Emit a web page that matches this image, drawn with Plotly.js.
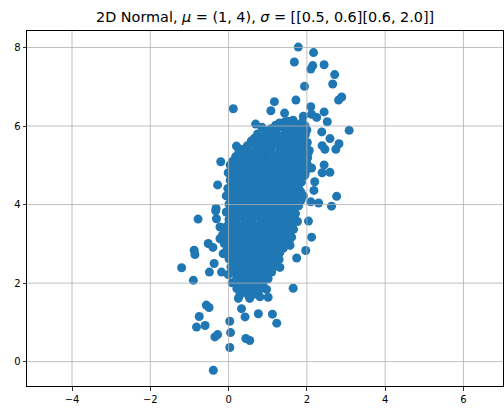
<!DOCTYPE html>
<html>
<head>
<meta charset="utf-8">
<script src="https://cdn.plot.ly/plotly-3.0.1.min.js"></script>
<style>html,body{margin:0;padding:0;background:#fff}#chart{width:504px;height:411px}</style>
</head>
<body>
<div id="chart"></div>
<script>
// Sparse (outlying) points
const outerX = [0.12, 0.69, 1.78, 2.17, 1.68, 2.15, 2.10, 2.44, 2.71, 2.66, 1.94, 2.89, 2.81, 1.72, 1.17, 1.08, 1.43, 2.10, 2.12, 2.44, 2.25, 2.52, 1.44, 1.65, 1.91,
  0.97, 0.20, -0.20, -0.28,
  2.38, 3.08, 2.59, 2.82, 2.39, 2.46, 2.74, 2.12, 2.44, 2.59, 2.39, 2.20, 2.18, 2.76, 2.10, 2.30, 2.63, 1.95, 1.95, 1.57,
  2.04, 2.12, 1.97, 1.74, 1.57, 1.29, 1.31, 1.65, 1.01, 0.97, 1.01,
  -0.78, -0.33, -0.52, -0.88, -0.86, -0.40, -0.37, -0.49, -0.18, -1.20, -0.90, -0.31, -0.22, -0.22, -0.14, 0.06, -0.32,
  -0.57, -0.50, -0.75, -0.82, -0.60, 0.03, 0.05, -0.35, -0.28, 0.03, -0.39, 0.44, 0.54, 0.76, 0.33, 0.42, 0.25, 0.54, 0.80, 1.12, 1.23];
const outerY = [6.44, 6.05, 8.01, 7.87, 7.63, 7.54, 7.45, 7.56, 7.31, 7.07, 7.01, 6.74, 6.66, 6.66, 6.62, 6.39, 6.33, 6.49, 6.30, 6.36, 6.22, 6.11, 6.11, 6.15, 6.25,
  5.87, 5.49, 5.09, 4.50,
  5.85, 5.89, 5.68, 5.55, 5.50, 5.41, 5.41, 4.93, 5.01, 4.82, 4.81, 4.58, 4.36, 4.21, 4.07, 4.04, 3.96, 4.75, 5.17, 4.24,
  3.58, 3.17, 2.83, 2.64, 2.96, 2.60, 2.40, 1.87, 2.11, 1.84, 1.64,
  3.63, 3.84, 3.01, 2.84, 2.73, 2.91, 2.50, 2.28, 2.28, 2.39, 2.07, 3.64, 3.43, 3.13, 2.75, 4.17, 3.90,
  1.44, 1.38, 1.15, 0.88, 0.92, 1.03, 0.74, 0.63, 0.69, 0.36, -0.22, 0.59, 0.54, 1.22, 1.35, 1.14, 1.61, 1.61, 1.65, 1.21, 0.98];

// Dense core of the cloud
const coreX = [1.30, 1.52, 1.70, 1.88,
  0.85, 1.08, 1.33, 1.58, 1.82, 2.00,
  0.74, 0.96, 1.16, 1.37, 1.56, 1.77, 1.96,
  0.58, 0.79, 1.01, 1.21, 1.40, 1.62, 1.81, 2.01,
  0.31, 0.49, 0.71, 0.92, 1.09, 1.31, 1.52, 1.69, 1.91, 2.06,
  0.18, 0.41, 0.59, 0.82, 0.99, 1.22, 1.39, 1.61, 1.79, 2.02,
  0.04, 0.26, 0.44, 0.66, 0.86, 1.04, 1.26, 1.44, 1.66, 1.84, 2.01,
  -0.01, 0.21, 0.39, 0.61, 0.79, 1.01, 1.21, 1.39, 1.61, 1.79, 1.96,
  0.04, 0.26, 0.44, 0.66, 0.84, 1.06, 1.24, 1.46, 1.64, 1.86,
  -0.02, 0.21, 0.39, 0.61, 0.79, 1.01, 1.19, 1.41, 1.59, 1.81,
  -0.06, 0.16, 0.34, 0.56, 0.74, 0.96, 1.14, 1.36, 1.54, 1.74, 1.91,
  0.01, 0.19, 0.41, 0.59, 0.81, 0.99, 1.21, 1.39, 1.61, 1.79,
  -0.06, 0.16, 0.34, 0.56, 0.74, 0.96, 1.14, 1.36, 1.54, 1.71,
  0.01, 0.19, 0.41, 0.59, 0.81, 0.99, 1.21, 1.39, 1.61, 1.76,
  -0.11, 0.11, 0.29, 0.51, 0.69, 0.91, 1.09, 1.31, 1.49, 1.66,
  -0.16, 0.06, 0.24, 0.46, 0.64, 0.86, 1.04, 1.26, 1.44, 1.61,
  -0.11, 0.11, 0.29, 0.51, 0.69, 0.91, 1.09, 1.31, 1.49,
  -0.06, 0.16, 0.34, 0.56, 0.74, 0.96, 1.14, 1.31,
  0.01, 0.19, 0.41, 0.59, 0.81, 0.99, 1.19,
  0.06, 0.24, 0.46, 0.64, 0.86, 1.04, 1.19,
  -0.01, 0.21, 0.39, 0.61, 0.79, 0.99,
  0.09, 0.31, 0.49, 0.71, 0.89,
  0.21, 0.39, 0.61, 0.79,
  0.29, 0.51, 0.69];
const coreY = [6.08, 6.12, 6.05, 6.10,
  5.97, 5.93, 5.98, 5.92, 5.96, 5.90,
  5.80, 5.76, 5.81, 5.75, 5.79, 5.74, 5.78,
  5.62, 5.58, 5.63, 5.57, 5.61, 5.59, 5.64, 5.58,
  5.41, 5.38, 5.43, 5.37, 5.42, 5.39, 5.44, 5.36, 5.41, 5.38,
  5.22, 5.18, 5.21, 5.17, 5.23, 5.19, 5.22, 5.16, 5.21, 5.19,
  5.01, 4.98, 5.03, 4.97, 5.02, 4.99, 5.04, 4.98, 5.01, 4.97, 5.03,
  4.81, 4.78, 4.83, 4.77, 4.82, 4.79, 4.84, 4.78, 4.81, 4.77, 4.82,
  4.62, 4.58, 4.61, 4.57, 4.63, 4.59, 4.62, 4.58, 4.61, 4.57,
  4.41, 4.38, 4.43, 4.37, 4.42, 4.39, 4.44, 4.38, 4.41, 4.37,
  4.22, 4.18, 4.21, 4.17, 4.23, 4.19, 4.22, 4.18, 4.21, 4.17, 4.22,
  4.01, 3.98, 4.03, 3.97, 4.02, 3.99, 4.04, 3.98, 4.01, 3.97,
  3.81, 3.78, 3.83, 3.77, 3.82, 3.79, 3.84, 3.78, 3.81, 3.77,
  3.62, 3.58, 3.61, 3.57, 3.63, 3.59, 3.62, 3.58, 3.61, 3.57,
  3.41, 3.38, 3.43, 3.37, 3.42, 3.39, 3.44, 3.38, 3.41, 3.37,
  3.22, 3.18, 3.21, 3.17, 3.23, 3.19, 3.22, 3.18, 3.21, 3.17,
  3.01, 2.98, 3.03, 2.97, 3.02, 2.99, 3.04, 2.98, 3.01,
  2.81, 2.78, 2.83, 2.77, 2.82, 2.79, 2.84, 2.78,
  2.62, 2.58, 2.61, 2.57, 2.63, 2.59, 2.62,
  2.41, 2.38, 2.43, 2.37, 2.42, 2.39, 2.43,
  2.22, 2.18, 2.21, 2.17, 2.23, 2.19,
  2.01, 1.98, 2.03, 1.97, 2.02,
  1.86, 1.83, 1.87, 1.84,
  1.71, 1.68, 1.72];

// Points between the core rows, where the reference is solid
const fillX = [1.20, 1.42, 1.62, 1.80, 1.95,
  0.96, 1.20, 1.46, 1.70, 1.90,
  0.66, 0.86, 1.08, 1.28, 1.48, 1.68, 1.88,
  0.48, 0.68, 0.90, 1.10, 1.30, 1.50, 1.72, 1.92,
  0.25, 0.45, 0.65, 0.86, 1.05, 1.26, 1.46, 1.65, 1.85, 2.03,
  0.10, 0.32, 0.52, 0.74, 0.92, 1.13, 1.32, 1.52, 1.72, 1.92,
  0.15, 0.35, 0.55, 0.76, 0.95, 1.15, 1.35, 1.55, 1.75, 1.92,
  0.12, 0.32, 0.52, 0.72, 0.92, 1.12, 1.32, 1.52, 1.72, 1.90,
  0.10, 0.30, 0.50, 0.70, 0.90, 1.10, 1.30, 1.50, 1.70,
  0.08, 0.28, 0.48, 0.68, 0.88, 1.08, 1.28, 1.48, 1.68, 1.85,
  0.08, 0.28, 0.48, 0.68, 0.88, 1.08, 1.28, 1.48, 1.68, 1.85,
  0.08, 0.28, 0.48, 0.68, 0.88, 1.08, 1.28, 1.48, 1.66,
  0.08, 0.28, 0.48, 0.68, 0.88, 1.08, 1.28, 1.48, 1.66,
  0.00, 0.20, 0.40, 0.60, 0.80, 1.00, 1.20, 1.40, 1.58,
  -0.03, 0.18, 0.38, 0.58, 0.78, 0.98, 1.18, 1.38, 1.55,
  -0.03, 0.18, 0.38, 0.58, 0.78, 0.98, 1.18, 1.38, 1.55,
  0.03, 0.23, 0.43, 0.63, 0.83, 1.03, 1.23, 1.40,
  0.08, 0.28, 0.48, 0.68, 0.88, 1.08, 1.25,
  0.13, 0.33, 0.53, 0.73, 0.93, 1.12,
  0.10, 0.30, 0.50, 0.70, 0.90, 1.10,
  0.20, 0.40, 0.60, 0.80,
  0.30, 0.50, 0.70,
  0.40, 0.60];
const fillY = [6.02, 6.00, 6.03, 5.99, 6.01,
  5.87, 5.86, 5.88, 5.85, 5.87,
  5.69, 5.70, 5.68, 5.71, 5.69, 5.67, 5.70,
  5.50, 5.51, 5.49, 5.52, 5.50, 5.48, 5.51, 5.49,
  5.30, 5.31, 5.29, 5.32, 5.30, 5.28, 5.31, 5.29, 5.30, 5.31,
  5.10, 5.11, 5.09, 5.12, 5.10, 5.08, 5.11, 5.09, 5.10, 5.11,
  4.90, 4.91, 4.89, 4.92, 4.90, 4.88, 4.91, 4.89, 4.90, 4.91,
  4.70, 4.71, 4.69, 4.72, 4.70, 4.68, 4.71, 4.69, 4.70, 4.71,
  4.50, 4.51, 4.49, 4.52, 4.50, 4.48, 4.51, 4.49, 4.50,
  4.30, 4.31, 4.29, 4.32, 4.30, 4.28, 4.31, 4.29, 4.30, 4.31,
  4.10, 4.11, 4.09, 4.12, 4.10, 4.08, 4.11, 4.09, 4.10, 4.11,
  3.90, 3.91, 3.89, 3.92, 3.90, 3.88, 3.91, 3.89, 3.90,
  3.70, 3.71, 3.69, 3.72, 3.70, 3.68, 3.71, 3.69, 3.70,
  3.50, 3.51, 3.49, 3.52, 3.50, 3.48, 3.51, 3.49, 3.50,
  3.30, 3.31, 3.29, 3.32, 3.30, 3.28, 3.31, 3.29, 3.30,
  3.10, 3.11, 3.09, 3.12, 3.10, 3.08, 3.11, 3.09, 3.10,
  2.90, 2.91, 2.89, 2.92, 2.90, 2.88, 2.91, 2.89,
  2.70, 2.71, 2.69, 2.72, 2.70, 2.68, 2.71,
  2.50, 2.51, 2.49, 2.52, 2.50, 2.48,
  2.30, 2.31, 2.29, 2.32, 2.30, 2.28,
  2.10, 2.11, 2.09, 2.12,
  1.93, 1.92, 1.94,
  1.78, 1.77];

const xTicks = [-4, -2, 0, 2, 4, 6];
const yTicks = [0, 2, 4, 6, 8];
const titleText = '2D Normal, <i>μ</i> = (1, 4), <i>σ</i> = [[0.5, 0.6][0.6, 2.0]]';

const trace = {
  type: 'scatter', mode: 'markers',
  x: outerX.concat(coreX, fillX), y: outerY.concat(coreY, fillY),
  marker: {color: '#1f77b4', size: 9, line: {width: 0}},
  hoverinfo: 'none'
};

const gridShapes = [];
xTicks.forEach(v => gridShapes.push({type: 'line', xref: 'x', yref: 'paper', x0: v, x1: v, y0: 0, y1: 1, layer: 'above', line: {color: '#b0b0b0', width: 0.8}}));
yTicks.forEach(v => gridShapes.push({type: 'line', xref: 'paper', yref: 'y', x0: 0, x1: 1, y0: v, y1: v, layer: 'above', line: {color: '#b0b0b0', width: 0.8}}));

const axisCommon = {
  showgrid: false, zeroline: false, showline: true, mirror: true,
  linecolor: '#000', linewidth: 1, ticks: 'outside', ticklen: 3.5, tickwidth: 0.8, tickcolor: '#000',
  tickfont: {family: 'DejaVu Sans', size: 10, color: '#000'}, layer: 'above traces'
};

const layout = {
  width: 504, height: 411,
  margin: {l: 27, r: 1, t: 31, b: 25, pad: 0},
  paper_bgcolor: '#fff', plot_bgcolor: '#fff',
  showlegend: false,
  title: {text: titleText, font: {family: 'DejaVu Sans', size: 14.4, color: '#000'}, x: 0.526, xanchor: 'center', xref: 'container', y: 1 - 16.5/411, yref: 'container', yanchor: 'middle'},
  xaxis: Object.assign({range: [-5.15, 7.01], tickmode: 'array', tickvals: xTicks}, axisCommon),
  yaxis: Object.assign({range: [-0.62, 8.42], tickmode: 'array', tickvals: yTicks}, axisCommon),
  shapes: gridShapes
};

Plotly.newPlot('chart', [trace], layout, {displayModeBar: false, staticPlot: true});
</script>
</body>
</html>
